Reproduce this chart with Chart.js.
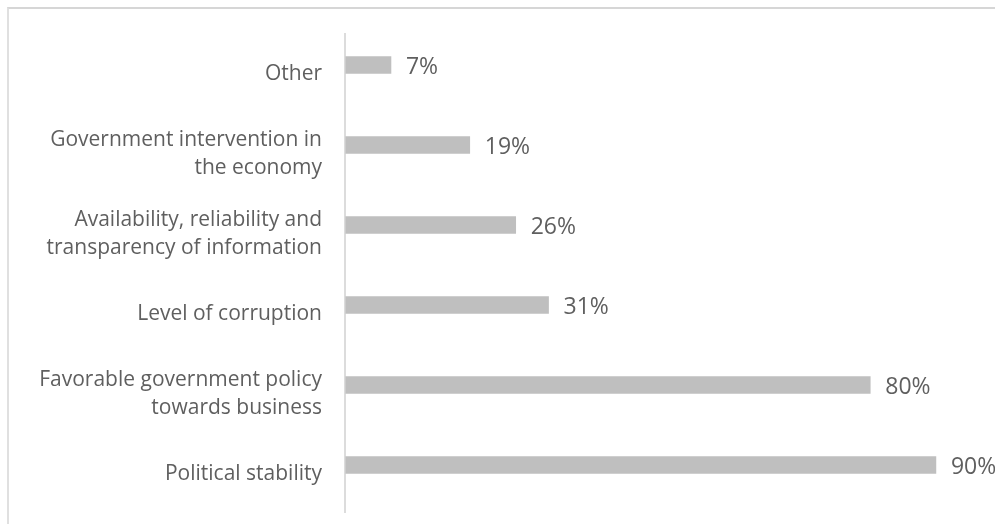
<!DOCTYPE html>
<html>
<head>
<meta charset="utf-8">
<script src="https://cdn.jsdelivr.net/npm/chart.js@4/dist/chart.umd.min.js"></script>
<style>
  html, body { margin: 0; padding: 0; background: #fff; overflow: hidden; }
  #frame { position: absolute; left: 7px; top: 7px; width: 1200px; height: 800px;
           border-top: 2px solid #d6d6d6; border-left: 2px solid #e0e0e0; }
  #wrap { position: absolute; left: 0; top: 0; width: 995px; height: 524px; }
</style>
</head>
<body>
<div id="frame"></div>
<div id="wrap"><canvas id="c" width="995" height="524"></canvas></div>
<script>
const categories = [
  "Other",
  ["Government intervention in", "the economy"],
  ["Availability, reliability and", "transparency of information"],
  "Level of corruption",
  ["Favorable government policy", "towards business"],
  "Political stability"
];
const values = [7, 19, 26, 31, 80, 90];
const valueLabels = ["7%", "19%", "26%", "31%", "80%", "90%"];

const valueLabelPlugin = {
  id: 'valueLabels',
  afterDatasetsDraw(chart) {
    const ctx = chart.ctx;
    const meta = chart.getDatasetMeta(0);
    ctx.save();
    ctx.font = '23px "Open Sans", sans-serif';
    ctx.fillStyle = '#5f5f5f';
    ctx.textAlign = 'left';
    ctx.textBaseline = 'middle';
    meta.data.forEach((bar, i) => {
      ctx.fillText(valueLabels[i], bar.x + 15, bar.y + 2);
    });
    ctx.restore();
  }
};

const axisLinePlugin = {
  id: 'axisLine',
  afterDraw(chart) {
    const ctx = chart.ctx;
    const x = chart.scales.x.getPixelForValue(0);
    ctx.save();
    ctx.strokeStyle = '#d0d0d0';
    ctx.lineWidth = 1.5;
    ctx.beginPath();
    ctx.moveTo(x, chart.chartArea.top + 8);
    ctx.lineTo(x, chart.chartArea.bottom + 8);
    ctx.stroke();
    ctx.restore();
  }
};

new Chart(document.getElementById('c'), {
  type: 'bar',
  data: {
    labels: categories,
    datasets: [{
      data: values,
      backgroundColor: '#bfbfbf',
      borderWidth: 0,
      barThickness: 17
    }]
  },
  options: {
    indexAxis: 'y',
    responsive: false,
    animation: false,
    events: [],
    layout: { padding: { left: 0, right: 0, top: 25, bottom: 19 } },
    plugins: { legend: { display: false }, tooltip: { enabled: false } },
    scales: {
      x: {
        min: 0, max: 99,
        display: false,
        grid: { display: false }
      },
      y: {
        grid: { display: false, drawTicks: false },
        border: { display: false },
        afterFit(scale) {
          scale.width = 345;
          scale.paddingTop = 0;
          scale.paddingBottom = 0;
        },
        ticks: {
          color: '#5f5f5f',
          font: { family: '"Open Sans", sans-serif', size: 21, lineHeight: 1.3 },
          padding: 23,
          labelOffset: 9
        }
      }
    }
  },
  plugins: [valueLabelPlugin, axisLinePlugin]
});
</script>
</body>
</html>
